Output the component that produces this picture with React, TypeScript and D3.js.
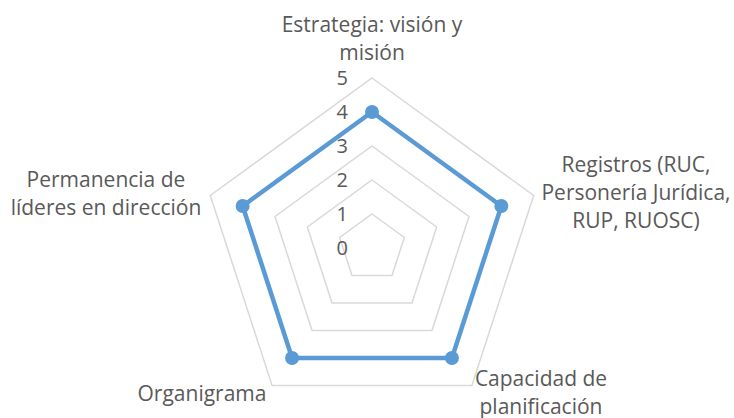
import { useRef, useEffect } from 'react';
import * as d3 from 'd3';

const categories = [
  ['Estrategia: visión y', 'misión'],
  ['Registros (RUC,', 'Personería Jurídica,', 'RUP, RUOSC)'],
  ['Capacidad de', 'planificación'],
  ['Organigrama'],
  ['Permanencia de', 'líderes en dirección'],
];
const values = [4, 4, 4, 4, 4];
const ticks = [0, 1, 2, 3, 4, 5];

// label anchor points (center x, first baseline y) per category
const labelPos = [
  { x: 372, y: 32 },
  { x: 636, y: 172 },
  { x: 541, y: 386 },
  { x: 202, y: 401 },
  { x: 106, y: 187 },
];

export default function App() {
  const svgRef = useRef<SVGSVGElement>(null);

  useEffect(() => {
    if (!svgRef.current) return;
    const width = 734, height = 418;
    const cx = 372, cy = 248, R = 170;
    const font = '"Open Sans", sans-serif';
    const svg = d3.select(svgRef.current);
    svg.selectAll('*').remove();
    svg.attr('width', width).attr('height', height);

    const r = d3.scaleLinear().domain([0, 5]).range([0, R]);
    const angle = (i: number) => (i * 2 * Math.PI) / categories.length;
    const pt = (i: number, v: number): [number, number] => [
      cx + r(v) * Math.sin(angle(i)),
      cy - r(v) * Math.cos(angle(i)),
    ];
    const line = d3.line().curve(d3.curveLinearClosed);

    // Grid
    svg.selectAll('path.grid')
      .data(ticks)
      .join('path')
      .attr('class', 'grid')
      .attr('d', t => line(categories.map((_, i) => pt(i, t))))
      .attr('fill', 'none')
      .attr('stroke', '#d9d9d9')
      .attr('stroke-width', 1.5);

    // Tick labels
    svg.selectAll('text.tick')
      .data(ticks)
      .join('text')
      .attr('class', 'tick')
      .attr('x', cx - 24)
      .attr('y', t => cy - r(t))
      .attr('dy', '0.35em')
      .attr('text-anchor', 'end')
      .attr('fill', '#595959')
      .attr('font-size', '20px')
      .attr('font-family', font)
      .text(t => t);

    // Series
    svg.append('path')
      .attr('d', line(values.map((v, i) => pt(i, v))))
      .attr('fill', 'none')
      .attr('stroke', '#5b9bd5')
      .attr('stroke-width', 4.5)
      .attr('stroke-linejoin', 'round');

    svg.selectAll('circle.dot')
      .data(values)
      .join('circle')
      .attr('class', 'dot')
      .attr('cx', (v, i) => pt(i, v)[0])
      .attr('cy', (v, i) => pt(i, v)[1])
      .attr('r', 7)
      .attr('fill', '#5b9bd5');

    // Category labels
    const g = svg.selectAll('text.cat')
      .data(categories)
      .join('text')
      .attr('class', 'cat')
      .attr('text-anchor', 'middle')
      .attr('fill', '#595959')
      .attr('font-size', '21px')
      .attr('font-family', font);
    g.each(function (lines, i) {
      d3.select(this).selectAll('tspan')
        .data(lines)
        .join('tspan')
        .attr('x', labelPos[i].x)
        .attr('y', (_, j) => labelPos[i].y + j * 28)
        .text(d => d);
    });
  }, []);

  return <svg ref={svgRef} style={{ position: 'absolute', left: 0, top: 0, background: '#fff' }} />;
}
